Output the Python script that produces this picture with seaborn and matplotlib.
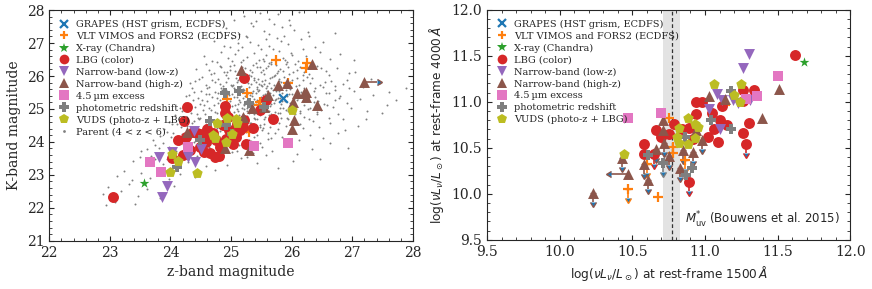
import matplotlib
matplotlib.use("Agg")
import matplotlib.pyplot as plt
from matplotlib.lines import Line2D
from matplotlib.ticker import MultipleLocator, FormatStrFormatter
import numpy as np
import pandas as pd
import seaborn as sns

# ---------------- left panel: z-band vs K-band magnitude ----------------
grapes_z = [25.86]
grapes_k = [25.34]
vlt_z = [25.74, 26.25, 26.24, 25.27, 25.48, 25.46, 24.93, 25.94, 24.18, 25.30]
vlt_k = [26.48, 26.38, 26.23, 25.47, 25.22, 25.12, 25.30, 25.80, 23.55, 24.30]
xray_z = [23.56]
xray_k = [22.76]
lbg_z = [23.05, 24.22, 24.27, 24.90, 24.90, 25.22, 25.69, 25.58, 24.26, 24.37,
         24.48, 24.59, 24.70, 24.81, 24.92, 25.03, 25.08, 25.14, 25.19, 24.65,
         24.55, 24.73, 24.80, 24.48, 24.43, 24.64, 24.87, 24.97, 25.22, 25.36,
         25.47, 25.25, 24.12, 24.20, 24.02, 24.33, 24.60, 24.75, 25.10, 24.95]
lbg_k = [22.32, 24.63, 25.06, 25.10, 24.87, 25.93, 24.71, 25.27, 24.16, 24.30,
         24.23, 24.00, 24.28, 23.85, 24.10, 23.95, 24.15, 24.35, 24.45, 23.65,
         23.70, 23.55, 23.58, 23.85, 24.26, 24.20, 24.51, 24.36, 24.66, 24.41,
         24.97, 23.95, 24.05, 23.60, 23.52, 23.75, 24.40, 24.05, 24.55, 24.75]
nb_low_z = [23.86, 23.94, 23.81, 24.03, 24.29, 24.41, 24.51, 24.39]
nb_low_k = [22.34, 22.66, 23.55, 23.70, 23.55, 23.40, 23.78, 24.34]
nb_high_z = [25.17, 25.77, 25.92, 26.08, 26.23, 26.24, 26.42, 26.02, 26.04, 26.00,
             24.90, 25.30, 25.34, 27.19, 26.34, 26.21, 24.28, 25.55, 25.61, 25.20]
nb_high_k = [26.18, 25.73, 25.78, 25.47, 25.52, 25.37, 25.12, 25.22, 24.66, 24.38,
             23.81, 23.76, 25.02, 25.83, 26.36, 25.47, 24.30, 25.05, 25.42, 24.75]
nb_high_xlim = [0, 0, 0, 0, 0, 0, 0, 0, 0, 0, 0, 0, 0, 1, 0, 0, 0, 0, 0, 0]
irac_z = [23.67, 23.85, 24.29, 25.37, 25.94]
irac_k = [23.38, 23.10, 23.84, 23.88, 23.97]
photz_z = [24.90, 25.13, 25.30, 24.65, 24.48, 24.11, 24.92, 25.55, 25.02]
photz_k = [25.47, 25.55, 25.19, 24.62, 24.07, 23.25, 24.51, 25.07, 24.25]
vuds_z = [24.02, 23.99, 24.43, 24.13, 24.73, 24.76, 24.91, 25.02, 24.93, 25.08,
          25.09, 26.01, 24.70]
vuds_k = [23.62, 23.10, 23.07, 23.42, 24.11, 24.56, 23.99, 24.24, 24.74, 24.71,
          24.56, 24.97, 24.20]

# parent sample (4 < z < 6)
parent_pts = [
    (25.21, 27.83), (25.47, 27.91), (25.62, 27.74), (25.78, 27.88), (25.95, 27.69), (25.33, 27.62),
    (26.12, 27.95), (25.05, 27.71),
    (24.92, 27.45), (25.13, 27.28), (25.36, 27.52), (25.55, 27.37), (25.71, 27.58), (25.88, 27.22),
    (26.04, 27.41), (26.27, 27.33), (25.24, 27.21), (25.63, 27.26), (24.81, 27.35), (25.97, 27.55),
    (24.71, 27.05), (24.88, 26.91), (25.02, 27.14), (25.18, 26.87), (25.31, 27.02), (25.44, 26.94),
    (25.57, 27.11), (25.69, 26.83), (25.83, 27.07), (25.94, 26.96), (26.15, 27.12), (26.38, 26.89),
    (26.52, 27.04), (25.26, 27.18), (25.49, 26.81), (25.75, 27.16),
    (24.55, 26.62), (24.69, 26.47), (24.83, 26.74), (24.95, 26.55), (25.07, 26.68), (25.16, 26.43),
    (25.27, 26.59), (25.38, 26.71), (25.46, 26.49), (25.58, 26.64), (25.66, 26.42), (25.79, 26.77),
    (25.86, 26.56), (25.99, 26.69), (26.11, 26.45), (26.24, 26.61), (26.46, 26.73), (26.63, 26.51),
    (26.79, 26.66), (25.12, 26.79), (25.52, 26.53), (25.93, 26.41),
    (24.42, 26.21), (24.58, 26.36), (24.71, 26.08), (24.84, 26.27), (24.93, 26.13), (25.04, 26.33),
    (25.11, 26.05), (25.23, 26.24), (25.34, 26.11), (25.41, 26.38), (25.53, 26.17), (25.61, 26.29),
    (25.72, 26.03), (25.81, 26.22), (25.91, 26.35), (26.02, 26.12), (26.13, 26.26), (26.28, 26.07),
    (26.41, 26.31), (26.57, 26.16), (26.74, 26.23), (26.95, 26.09), (25.29, 26.02), (25.66, 26.37),
    (25.47, 26.26), (24.99, 26.19), (25.85, 26.14),
    (24.33, 25.78), (24.47, 25.91), (24.61, 25.64), (24.74, 25.83), (24.86, 25.69), (24.95, 25.95),
    (25.03, 25.72), (25.12, 25.87), (25.19, 25.61), (25.28, 25.79), (25.37, 25.93), (25.43, 25.66),
    (25.51, 25.84), (25.59, 25.71), (25.68, 25.97), (25.74, 25.62), (25.83, 25.81), (25.92, 25.68),
    (26.01, 25.89), (26.12, 25.74), (26.25, 25.96), (26.38, 25.63), (26.55, 25.82), (26.71, 25.71),
    (26.92, 25.88), (27.18, 25.66), (27.46, 25.79), (25.22, 25.98), (25.57, 25.63), (25.79, 25.92),
    (25.05, 25.63), (25.46, 25.76), (25.98, 25.61),
    (24.26, 25.38), (24.39, 25.52), (24.52, 25.27), (24.64, 25.44), (24.76, 25.33), (24.85, 25.57),
    (24.93, 25.21), (25.01, 25.46), (25.09, 25.35), (25.16, 25.58), (25.24, 25.24), (25.31, 25.42),
    (25.38, 25.31), (25.45, 25.55), (25.52, 25.22), (25.58, 25.39), (25.65, 25.48), (25.72, 25.26),
    (25.79, 25.53), (25.87, 25.36), (25.95, 25.45), (26.04, 25.29), (26.15, 25.51), (26.28, 25.37),
    (26.43, 25.24), (26.61, 25.47), (26.78, 25.33), (27.02, 25.56), (27.35, 25.42), (27.72, 25.28),
    (25.27, 25.51), (25.48, 25.29), (25.69, 25.59), (25.13, 25.26), (25.84, 25.23), (25.35, 25.49),
    (25.61, 25.34),
    (24.19, 24.94), (24.31, 25.08), (24.44, 24.86), (24.56, 25.13), (24.67, 24.97), (24.78, 25.17),
    (24.87, 24.83), (24.96, 25.05), (25.04, 24.92), (25.12, 25.16), (25.19, 24.85), (25.26, 25.02),
    (25.33, 24.91), (25.41, 25.14), (25.48, 24.81), (25.55, 25.07), (25.63, 24.95), (25.71, 25.19),
    (25.78, 24.88), (25.86, 25.04), (25.94, 24.93), (26.03, 25.15), (26.14, 24.87), (26.27, 25.01),
    (26.42, 24.92), (26.59, 25.11), (26.77, 24.84), (26.98, 25.03), (27.25, 24.95), (27.58, 25.12),
    (25.22, 25.11), (25.44, 24.96), (25.66, 24.86), (25.09, 24.99), (25.37, 24.84), (25.58, 25.18),
    (24.91, 25.12),
    (24.03, 24.55), (24.14, 24.69), (24.27, 24.47), (24.38, 24.63), (24.49, 24.74), (24.59, 24.51),
    (24.68, 24.66), (24.77, 24.43), (24.85, 24.58), (24.93, 24.77), (25.01, 24.49), (25.08, 24.62),
    (25.16, 24.71), (25.23, 24.44), (25.31, 24.57), (25.39, 24.68), (25.47, 24.52), (25.56, 24.75),
    (25.64, 24.46), (25.73, 24.61), (25.82, 24.72), (25.91, 24.48), (26.01, 24.64), (26.13, 24.53),
    (26.29, 24.69), (26.45, 24.45), (26.63, 24.58), (26.84, 24.71), (27.09, 24.49), (25.27, 24.78),
    (25.52, 24.41), (25.12, 24.54), (25.43, 24.43),
    (23.82, 24.18), (23.95, 24.31), (24.07, 24.06), (24.19, 24.23), (24.31, 24.36), (24.42, 24.11),
    (24.53, 24.27), (24.63, 24.04), (24.72, 24.19), (24.81, 24.33), (24.90, 24.08), (24.98, 24.24),
    (25.07, 24.38), (25.15, 24.13), (25.24, 24.29), (25.33, 24.02), (25.42, 24.21), (25.51, 24.35),
    (25.61, 24.09), (25.72, 24.26), (25.84, 24.14), (25.97, 24.32), (26.12, 24.05), (26.31, 24.22),
    (26.52, 24.12), (26.76, 24.28), (25.19, 24.39), (25.37, 24.16),
    (23.61, 23.78), (23.74, 23.92), (23.86, 23.67), (23.97, 23.84), (24.09, 23.71), (24.21, 23.95),
    (24.33, 23.63), (24.44, 23.81), (24.55, 23.69), (24.66, 23.93), (24.76, 23.74), (24.87, 23.61),
    (24.98, 23.87), (25.09, 23.72), (25.22, 23.96), (25.36, 23.65), (25.51, 23.83), (25.68, 23.71),
    (25.87, 23.91), (26.08, 23.64), (26.34, 23.79), (25.28, 23.82), (24.92, 23.96),
    (23.38, 23.41), (23.49, 23.55), (23.62, 23.29), (23.75, 23.47), (23.88, 23.33), (24.02, 23.52),
    (24.16, 23.24), (24.29, 23.38), (24.43, 23.57), (24.58, 23.27), (24.74, 23.44), (24.93, 23.31),
    (25.16, 23.51), (25.43, 23.36), (25.78, 23.22),
    (23.12, 22.95), (23.24, 23.13), (23.36, 22.84), (23.51, 23.07), (23.66, 22.91), (23.81, 23.18),
    (23.97, 22.87), (24.15, 23.04), (24.41, 22.93), (24.73, 23.15),
    (22.88, 22.41), (22.97, 22.63), (23.08, 22.18), (23.19, 22.52), (23.31, 22.71), (23.46, 22.36),
    (23.62, 22.58), (23.83, 22.29), (24.05, 22.67), (22.93, 22.07), (23.41, 22.12),
    # denser core of the cloud
    (24.77, 26.44), (24.98, 26.31), (25.19, 26.48), (25.36, 26.34), (25.55, 26.46), (25.74, 26.32),
    (25.89, 26.49), (26.06, 26.36), (26.33, 26.44), (25.02, 26.47), (25.63, 26.39),
    (24.63, 26.18), (24.81, 26.29), (25.07, 26.16), (25.18, 26.27), (25.31, 26.19), (25.49, 26.12),
    (25.58, 26.24), (25.77, 26.15), (25.94, 26.27), (26.08, 26.19), (26.21, 26.13), (26.49, 26.25),
    (24.89, 26.11), (25.42, 26.28),
    (24.52, 25.97), (24.67, 26.06), (24.79, 25.92), (24.91, 26.04), (25.08, 25.94), (25.16, 26.07),
    (25.33, 26.01), (25.45, 25.91), (25.54, 26.06), (25.64, 25.94), (25.76, 26.08), (25.87, 25.98),
    (25.96, 26.05), (26.09, 25.93), (26.19, 26.03), (26.33, 25.95), (26.61, 26.02), (25.26, 25.92),
    (25.71, 26.01),
    (24.41, 25.84), (24.58, 25.72), (24.69, 25.88), (24.82, 25.76), (24.91, 25.83), (25.00, 25.74),
    (25.09, 25.81), (25.17, 25.71), (25.25, 25.86), (25.33, 25.75), (25.41, 25.83), (25.49, 25.73),
    (25.56, 25.87), (25.63, 25.79), (25.71, 25.72), (25.79, 25.86), (25.88, 25.74), (25.97, 25.82),
    (26.07, 25.71), (26.18, 25.87), (26.31, 25.78), (26.47, 25.73), (26.65, 25.85), (26.84, 25.76),
    (25.37, 25.89), (25.54, 25.77),
    (24.36, 25.63), (24.51, 25.56), (24.63, 25.68), (24.74, 25.52), (24.83, 25.64), (24.92, 25.57),
    (25.01, 25.69), (25.07, 25.54), (25.14, 25.66), (25.22, 25.58), (25.29, 25.67), (25.36, 25.53),
    (25.43, 25.62), (25.51, 25.69), (25.59, 25.55), (25.66, 25.64), (25.74, 25.53), (25.82, 25.67),
    (25.91, 25.58), (25.99, 25.66), (26.09, 25.54), (26.21, 25.63), (26.36, 25.56), (26.52, 25.68),
    (26.71, 25.59), (26.95, 25.65), (25.19, 25.52), (25.46, 25.58), (25.76, 25.61),
    (24.31, 25.41), (24.46, 25.34), (24.58, 25.46), (24.69, 25.37), (24.79, 25.48), (24.88, 25.32),
    (24.97, 25.43), (25.05, 25.36), (25.12, 25.47), (25.19, 25.33), (25.27, 25.44), (25.34, 25.38),
    (25.41, 25.49), (25.49, 25.35), (25.56, 25.45), (25.62, 25.31), (25.69, 25.42), (25.77, 25.34),
    (25.84, 25.47), (25.92, 25.39), (26.01, 25.46), (26.11, 25.33), (26.24, 25.44), (26.39, 25.36),
    (26.56, 25.48), (26.79, 25.38), (27.12, 25.31), (25.23, 25.39), (25.53, 25.42), (25.81, 25.32),
    (24.24, 25.19), (24.37, 25.27), (24.49, 25.14), (24.61, 25.23), (24.72, 25.11), (24.82, 25.26),
    (24.91, 25.16), (24.99, 25.24), (25.07, 25.12), (25.15, 25.22), (25.22, 25.15), (25.29, 25.28),
    (25.36, 25.18), (25.43, 25.26), (25.51, 25.13), (25.58, 25.24), (25.66, 25.16), (25.74, 25.29),
    (25.82, 25.14), (25.89, 25.25), (25.98, 25.17), (26.08, 25.27), (26.21, 25.12), (26.36, 25.21),
    (26.54, 25.16), (26.72, 25.26), (26.91, 25.18), (25.33, 25.11), (25.61, 25.21),
    (24.16, 25.03), (24.28, 24.94), (24.41, 25.07), (24.53, 24.96), (24.64, 25.04), (24.73, 24.92),
    (24.84, 25.06), (24.93, 24.97), (25.02, 25.08), (25.11, 24.93), (25.18, 25.04), (25.26, 24.95),
    (25.34, 25.07), (25.41, 24.92), (25.49, 25.05), (25.57, 24.96), (25.64, 25.08), (25.73, 24.91),
    (25.81, 25.03), (25.91, 24.97), (26.02, 25.06), (26.14, 24.93), (26.31, 25.04), (26.49, 24.96),
    (26.68, 25.07), (25.46, 25.01), (25.21, 24.99),
    (24.08, 24.82), (24.21, 24.76), (24.34, 24.87), (24.46, 24.73), (24.57, 24.84), (24.66, 24.77),
    (24.76, 24.88), (24.86, 24.74), (24.95, 24.85), (25.04, 24.72), (25.13, 24.83), (25.21, 24.77),
    (25.29, 24.89), (25.38, 24.74), (25.46, 24.86), (25.54, 24.71), (25.62, 24.82), (25.71, 24.78),
    (25.81, 24.87), (25.92, 24.73), (26.05, 24.84), (26.21, 24.76), (26.41, 24.85), (26.62, 24.74),
    (23.98, 24.61), (24.11, 24.54), (24.23, 24.66), (24.36, 24.57), (24.47, 24.68), (24.58, 24.55),
    (24.67, 24.64), (24.76, 24.52), (24.86, 24.67), (24.95, 24.56), (25.05, 24.63), (25.14, 24.51),
    (25.24, 24.66), (25.33, 24.58), (25.43, 24.69), (25.54, 24.54), (25.66, 24.65), (25.79, 24.57),
    (25.94, 24.68), (26.11, 24.53), (26.35, 24.62),
    (23.89, 24.38), (24.04, 24.27), (24.17, 24.44), (24.29, 24.31), (24.41, 24.46), (24.52, 24.34),
    (24.62, 24.48), (24.72, 24.29), (24.83, 24.43), (24.93, 24.36), (25.03, 24.47), (25.13, 24.27),
    (25.24, 24.41), (25.35, 24.33), (25.47, 24.45), (25.61, 24.28), (25.77, 24.39), (25.95, 24.31),
    (26.18, 24.42),
    (23.71, 24.06), (23.88, 23.97), (24.01, 24.14), (24.14, 23.93), (24.27, 24.08), (24.39, 23.99),
    (24.51, 24.16), (24.62, 23.94), (24.74, 24.09), (24.86, 23.98), (24.99, 24.13), (25.13, 23.92),
    (25.29, 24.07), (25.47, 23.97), (25.66, 24.11), (25.91, 23.94),
    (23.52, 23.72), (23.68, 23.58), (23.81, 23.81), (23.95, 23.49), (24.08, 23.66), (24.22, 23.79),
    (24.36, 23.51), (24.49, 23.68), (24.63, 23.84), (24.81, 23.55), (25.02, 23.69), (25.27, 23.53),
    (25.58, 23.61), (26.02, 23.42),
    (25.41, 27.66), (25.84, 27.49), (25.12, 27.01), (25.62, 26.91), (26.28, 27.21), (24.99, 26.87),
    (26.01, 26.63), (26.19, 26.82),
    (27.05, 26.12), (27.31, 25.92), (27.61, 25.51), (27.88, 25.63), (27.22, 24.71), (27.49, 24.88),
    (26.88, 24.36), (26.63, 23.97), (26.47, 23.48), (26.93, 23.82), (27.02, 26.48), (26.71, 27.31),
]
parent_z = [p[0] for p in parent_pts]
parent_k = [p[1] for p in parent_pts]

# ---------------- right panel: L1500 vs L4000 ----------------
vlt_uv = [10.75, 10.78, 10.78, 10.60, 10.47, 10.68, 10.86, 11.14]
vlt_opt = [10.82, 10.51, 10.44, 10.33, 10.05, 9.97, 10.37, 10.97]
vlt_lim = [0, 0, 0, 1, 1, 0, 1, 0]
xray_uv = [11.68]
xray_opt = [11.43]
lbg_uv = [10.58, 10.58, 10.65, 10.66, 10.75, 10.79, 10.84, 10.89, 10.94, 10.98,
          10.94, 11.02, 11.06, 11.09, 11.12, 11.15, 11.10, 11.05, 11.26, 11.26,
          11.28, 11.30, 11.26, 11.34, 10.89, 11.62, 10.70, 10.92]
lbg_opt = [10.54, 10.43, 10.43, 10.69, 10.65, 10.76, 10.70, 10.72, 11.00, 11.00,
           10.87, 10.62, 10.70, 10.56, 10.96, 10.75, 10.80, 10.88, 11.01, 10.66,
           10.54, 10.77, 11.13, 11.13, 10.13, 11.51, 10.62, 10.60]
lbg_lim = [0, 0, 1, 0, 0, 0, 0, 0, 0, 0,
           0, 0, 0, 0, 0, 0, 0, 0, 0, 0,
           1, 0, 0, 0, 1, 0, 0, 0]
nbl_uv = [11.30, 11.26, 11.08, 11.12, 11.03, 11.10, 11.19, 11.23, 11.31]
nbl_opt = [11.52, 11.37, 11.09, 11.02, 10.92, 10.71, 11.02, 10.99, 11.02]
nbh_uv = [10.23, 10.47, 10.43, 10.58, 10.61, 10.66, 10.71, 10.71, 10.72, 10.75,
          10.83, 10.85, 10.92, 10.94, 10.98, 11.03, 11.14, 11.39, 11.51]
nbh_opt = [10.01, 10.22, 10.39, 10.32, 10.15, 10.49, 10.80, 10.69, 10.55, 10.41,
           10.28, 10.48, 10.46, 10.69, 10.59, 11.06, 11.03, 10.82, 11.14]
nbh_lim = [1, 0, 1, 1, 1, 1, 0, 0, 1, 1,
           1, 1, 1, 0, 1, 0, 0, 0, 0]
nbh_xlim = [0, 1, 0, 0, 0, 0, 0, 0, 0, 0,
            0, 0, 0, 0, 0, 0, 0, 0, 0]
irac_uv = [10.47, 10.70, 11.50, 11.28, 11.36]
irac_opt = [10.83, 10.88, 11.28, 11.03, 11.06]
photz_uv = [10.61, 10.71, 10.86, 10.87, 10.91, 11.04, 11.18, 11.18]
photz_opt = [10.42, 10.34, 10.62, 10.21, 10.28, 10.80, 11.12, 10.70]
photz_lim = [0, 1, 0, 0, 0, 0, 0, 0]
vuds_uv = [10.44, 11.06, 11.25, 11.20, 11.24, 10.88, 10.82, 10.81, 10.82, 10.88,
           10.93, 10.95, 10.93]
vuds_opt = [10.43, 11.19, 11.19, 11.08, 11.00, 10.82, 10.72, 10.62, 10.55, 10.54,
            10.76, 10.73, 10.61]

muv_star = 10.77
muv_band = (10.71, 10.83)

labels = ["GRAPES (HST grism, ECDFS)", "VLT VIMOS and FORS2 (ECDFS)", "X-ray (Chandra)",
          "LBG (color)", "Narrow-band (low-z)", "Narrow-band (high-z)",
          "4.5\u2009\u00b5m excess", "photometric redshift", "VUDS (photo-z + LBG)"]

pal = sns.color_palette("tab10")
styles = [
    dict(marker="x", color=pal[0], s=40, lw=1.6),
    dict(marker="+", color=pal[1], s=50, lw=1.6),
    dict(marker="*", color=pal[2], s=55, lw=0),
    dict(marker="o", color=pal[3], s=62, lw=0),
    dict(marker="v", color=pal[4], s=62, lw=0),
    dict(marker="^", color=pal[5], s=62, lw=0),
    dict(marker="s", color=pal[6], s=50, lw=0),
    dict(marker="P", color=pal[7], s=62, lw=0),
    dict(marker="p", color=pal[8], s=62, lw=0),
]

sns.set_style("ticks")
plt.rcParams["font.family"] = ["DejaVu Serif"]
plt.rcParams["mathtext.fontset"] = "dejavusans"
plt.rcParams["xtick.direction"] = "in"
plt.rcParams["ytick.direction"] = "in"

fig = plt.figure(figsize=(8.72, 2.89), dpi=100)
ax1 = fig.add_axes([0.0565, 0.167, 0.417, 0.798])
ax2 = fig.add_axes([0.5585, 0.170, 0.4166, 0.7958])


def scat(ax, x, y, st, z=3):
    df = pd.DataFrame({"x": x, "y": y})
    sns.scatterplot(data=df, x="x", y="y", ax=ax, legend=False, marker=st["marker"],
                    color=st["color"], s=st["s"], linewidth=st["lw"], zorder=z)


def down_arrows(ax, x, y, flags, color, length=0.1):
    sel = np.asarray(flags, bool)
    if sel.any():
        ax.errorbar(np.asarray(x)[sel], np.asarray(y)[sel], yerr=length, uplims=True,
                    fmt="none", ecolor=color, elinewidth=1.2, capsize=2.5, zorder=2)


# left panel
sns.scatterplot(x=parent_z, y=parent_k, ax=ax1, color="#7f7f7f", s=2, linewidth=0,
                zorder=1, legend=False)
left_sets = [(grapes_z, grapes_k), (vlt_z, vlt_k), (xray_z, xray_k), (lbg_z, lbg_k),
             (nb_low_z, nb_low_k), (nb_high_z, nb_high_k), (irac_z, irac_k),
             (photz_z, photz_k), (vuds_z, vuds_k)]
for (x, y), st in zip(left_sets, styles):
    scat(ax1, x, y, st)
xl = np.asarray(nb_high_xlim, bool)
ax1.errorbar(np.asarray(nb_high_z)[xl], np.asarray(nb_high_k)[xl], xerr=0.22, xlolims=True,
             fmt="none", ecolor=pal[5], elinewidth=1.2, capsize=2.5, zorder=2)

ax1.set_xlim(22, 28)
ax1.set_ylim(21, 28)
ax1.set_xlabel("z-band magnitude", fontsize=10)
ax1.set_ylabel("K-band magnitude", fontsize=10)

# right panel
ax2.axvspan(*muv_band, color="#e3e3e3", zorder=0, lw=0)
ax2.axvline(muv_star, color="#333333", ls=(0, (3, 2)), lw=0.9, zorder=0.5)
right_sets = [([], []), (vlt_uv, vlt_opt), (xray_uv, xray_opt), (lbg_uv, lbg_opt),
              (nbl_uv, nbl_opt), (nbh_uv, nbh_opt), (irac_uv, irac_opt),
              (photz_uv, photz_opt), (vuds_uv, vuds_opt)]
for (x, y), st in zip(right_sets, styles):
    if len(x):
        scat(ax2, x, y, st)
down_arrows(ax2, vlt_uv, vlt_opt, vlt_lim, pal[1])
down_arrows(ax2, lbg_uv, lbg_opt, lbg_lim, pal[3])
down_arrows(ax2, nbh_uv, nbh_opt, nbh_lim, pal[5])
down_arrows(ax2, photz_uv, photz_opt, photz_lim, pal[7])
xl = np.asarray(nbh_xlim, bool)
ax2.errorbar(np.asarray(nbh_uv)[xl], np.asarray(nbh_opt)[xl], xerr=0.12, xuplims=True,
             fmt="none", ecolor=pal[5], elinewidth=1.2, capsize=2.5, zorder=2)

ax2.text(10.86, 9.72, r"$M^{*}_{\rm uv}$ (Bouwens et al. 2015)", fontsize=8.5,
         family="DejaVu Sans", va="center")
ax2.set_xlim(9.5, 12.0)
ax2.set_ylim(9.5, 12.0)
ax2.set_xlabel(r"$\log(\nu L_\nu/L_\odot)$ at rest-frame 1500$\,\AA$", fontsize=8.7,
               family="DejaVu Sans")
ax2.set_ylabel(r"$\log(\nu L_\nu/L_\odot)$ at rest-frame 4000$\,\AA$", fontsize=8.7,
               family="DejaVu Sans")

for ax, maj, mnr in [(ax1, 1, 0.2), (ax2, 0.5, 0.1)]:
    ax.xaxis.set_major_locator(MultipleLocator(maj))
    ax.yaxis.set_major_locator(MultipleLocator(maj))
    ax.xaxis.set_minor_locator(MultipleLocator(mnr))
    ax.yaxis.set_minor_locator(MultipleLocator(mnr))
    ax.tick_params(which="both", top=True, right=True, direction="in", labelsize=10)
    ax.tick_params(which="major", length=3.5, width=0.8)
    ax.tick_params(which="minor", length=2, width=0.6)
    for sp in ax.spines.values():
        sp.set_linewidth(0.8)
ax2.xaxis.set_major_formatter(FormatStrFormatter("%.1f"))
ax2.yaxis.set_major_formatter(FormatStrFormatter("%.1f"))


def handles(with_parent):
    hs = []
    for st in styles:
        hs.append(Line2D([], [], ls="none", marker=st["marker"], color=st["color"],
                         markersize=7 if st["marker"] not in "x+" else 6,
                         markeredgewidth=st["lw"]))
    labs = list(labels)
    if with_parent:
        hs.append(Line2D([], [], ls="none", marker=".", color="gray", markersize=4,
                         markeredgewidth=0))
        labs.append("Parent (4 < z < 6)")
    return hs, labs


for ax, wp in [(ax1, True), (ax2, False)]:
    h, l = handles(wp)
    ax.legend(h, l, loc="upper left", frameon=False, fontsize=7.0,
              handlelength=1.0, handletextpad=0.8, labelspacing=0.3, borderaxespad=0.8,
              borderpad=0.2)

fig.savefig("out.png", dpi=100)
